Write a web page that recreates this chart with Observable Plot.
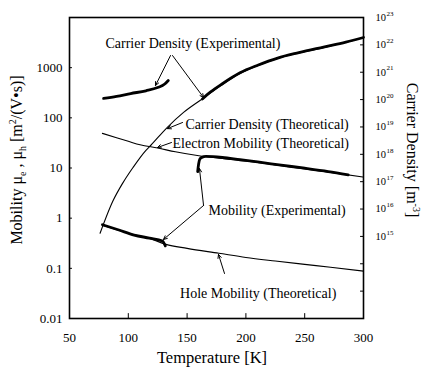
<!DOCTYPE html>
<html><head><meta charset="utf-8">
<script src="https://cdn.jsdelivr.net/npm/d3@7"></script>
<script src="https://cdn.jsdelivr.net/npm/@observablehq/plot@0.6"></script>
<style>body{margin:0;background:#fff}</style>
</head><body><div id="chart"></div>
<script>
// ---- tick values ----
const xTicks = [50, 100, 150, 200, 250, 300];
const mobTicks = [0.01, 0.1, 1, 10, 100, 1000];
const mobTickLabels = ["0.01", "0.1", "1", "10", "100", "1000"];
const densTickExps = [12, 13, 14, 15, 16, 17, 18, 19, 20, 21, 22, 23];
const densLabelExps = [15, 16, 17, 18, 19, 20, 21, 22, 23];

// ---- series ----
// Carrier density (theoretical) [m^-3]
const densTheoT = [76, 87, 95, 104, 115, 119, 133, 147, 161, 195, 227, 266, 297, 300];
const densTheoN = [1.3e15, 2.0e16, 8.5e16, 3.3e17, 1.4e18, 2.1e18, 9.5e18, 3.4e19, 9.3e19, 8.9e20, 3.2e21, 7.9e21, 1.7e22, 1.86e22];
// Carrier density (experimental), low-T and high-T parts
const densExpLowT = [79, 90, 102, 115, 125, 131, 134];
const densExpLowN = [1.1e20, 1.3e20, 1.66e20, 2.1e20, 2.75e20, 3.7e20, 5.0e20];
const densExpHighT = [163, 170, 180, 195, 210, 227, 245, 266, 285, 300];
const densExpHighN = [1.05e20, 1.9e20, 3.8e20, 9.5e20, 1.8e21, 3.3e21, 5.2e21, 8.3e21, 1.26e22, 1.86e22];
// Electron mobility (theoretical) [m^2/(V s)]
const elecT = [78, 90, 100, 110, 125, 140, 160, 180, 200, 225, 250, 275, 300];
const elecMu = [49, 40, 34, 29, 25, 21, 17.5, 15.5, 13.8, 11.5, 9.6, 8.0, 6.6];
// Hole mobility (theoretical)
const holeT = [78, 100, 120, 132, 150, 177, 200, 225, 250, 272, 300];
const holeMu = [0.72, 0.5, 0.38, 0.3, 0.25, 0.2, 0.165, 0.14, 0.12, 0.105, 0.088];
// Mobility (experimental), low-T and high-T parts
const mobExpLowT = [78, 92, 105, 118, 129, 131.5];
const mobExpLowMu = [0.74, 0.58, 0.46, 0.40, 0.35, 0.28];
const mobExpHighT = [159, 159.8, 160.8, 162.5, 166, 172, 180, 195, 210, 230, 250, 270, 287];
const mobExpHighMu = [8.5, 12, 15, 16.3, 17, 16.8, 16.2, 14.6, 13.2, 11.4, 9.9, 8.5, 7.3];

// ---- annotations (in temperature / left-axis units) ----
const noteText = ["Carrier Density (Experimental)", "Carrier Density (Theoretical)", "Electron Mobility (Theoretical)", "Mobility (Experimental)", "Hole Mobility (Theoretical)"];
const noteT = [80.6, 148.6, 137.6, 168.2, 144];
const noteMu = [3020, 73.6, 30.7, 1.42, 0.0316];
const arrowT1 = [135.9, 137.6, 146.1, 136.7, 164, 164, 181.8];
const arrowMu1 = [1746, 1746, 80.7, 32.2, 1.79, 1.79, 0.079];
const arrowT2 = [123.1, 164, 133.3, 124.8, 160.5, 129.9, 176.7];
const arrowMu2 = [441, 254, 61, 25.6, 9.8, 0.376, 0.189];

// right axis (1e12..1e23) shares the pixel range of left axis (1e-2..1e4)
const densToY = n => 10 ** (-2 + (Math.log10(n) - 12) * 6 / 11);
const zip = (ts, vs, f = v => v) => ts.map((t, i) => ({t, v: f(vs[i])}));

const serif = "Liberation Serif, Times New Roman, serif";
const thin = 1.1, thick = 2.8;

const chart = Plot.plot({
  width: 423, height: 368,
  marginTop: 17, marginBottom: 50, marginLeft: 69, marginRight: 60,
  style: {fontFamily: serif, fontSize: "13px", color: "#000", background: "#fff"},
  x: {domain: [50, 300]},
  y: {type: "log", domain: [0.01, 10000]},
  marks: [
    Plot.axisX({ticks: xTicks, tickSize: 0, tickPadding: 14, label: null, fontSize: 13, fontFamily: serif}),
    Plot.axisY({ticks: mobTicks, tickSize: 0, tickPadding: 7, label: null, fontSize: 13, fontFamily: serif,
      tickFormat: d => mobTickLabels[mobTicks.indexOf(d)] ?? ""}),
    Plot.ruleY(mobTicks, {x1: 50, x2: 52.5, strokeWidth: 1}),
    Plot.ruleY(densTickExps.map(e => densToY(10 ** e)), {x1: 297.5, x2: 300, strokeWidth: 1}),
    Plot.ruleX(xTicks, {y1: 0.01, y2: 0.0125, strokeWidth: 1}),
    Plot.text(densLabelExps, {x: 300, y: e => densToY(10 ** e), text: () => "10", dx: 12, textAnchor: "start", fontSize: 10.5, fontFamily: serif}),
    Plot.text(densLabelExps, {x: 300, y: e => densToY(10 ** e), text: e => String(e), dx: 23, dy: -4, textAnchor: "start", fontSize: 7, fontFamily: serif}),
    Plot.frame({strokeWidth: 1.6}),
    Plot.line(zip(densTheoT, densTheoN, densToY), {x: "t", y: "v", strokeWidth: thin, curve: "monotone-x"}),
    Plot.line(zip(densExpLowT, densExpLowN, densToY), {x: "t", y: "v", strokeWidth: thick, curve: "monotone-x"}),
    Plot.line(zip(densExpHighT, densExpHighN, densToY), {x: "t", y: "v", strokeWidth: thick, curve: "monotone-x"}),
    Plot.line(zip(elecT, elecMu), {x: "t", y: "v", strokeWidth: thin, curve: "monotone-x"}),
    Plot.line(zip(holeT, holeMu), {x: "t", y: "v", strokeWidth: thin, curve: "monotone-x"}),
    Plot.line(zip(mobExpLowT, mobExpLowMu), {x: "t", y: "v", strokeWidth: thick, curve: "monotone-x"}),
    Plot.line(zip(mobExpHighT, mobExpHighMu), {x: "t", y: "v", strokeWidth: thick, curve: "monotone-x"}),
    Plot.arrow(arrowT1.map((t, i) => i), {x1: i => arrowT1[i], y1: i => arrowMu1[i], x2: i => arrowT2[i], y2: i => arrowMu2[i],
      strokeWidth: 1, headLength: 6, headAngle: 50}),
    Plot.text(noteText, {x: (d, i) => noteT[i], y: (d, i) => noteMu[i], text: d => d, textAnchor: "start", fontSize: 14, fontFamily: serif})
  ]
});
document.getElementById("chart").appendChild(chart);

// axis titles with sub/superscripts
const svg = d3.select(chart);
const lt = svg.append("text").attr("transform", "translate(22,160) rotate(-90)")
  .attr("text-anchor", "middle").attr("font-family", serif).attr("font-size", 16).attr("fill", "#000");
lt.append("tspan").text("Mobility \u03BC");
lt.append("tspan").text("e").attr("font-size", 10).attr("dy", 4);
lt.append("tspan").text(" , \u03BC").attr("dy", -4);
lt.append("tspan").text("h").attr("font-size", 10).attr("dy", 4);
lt.append("tspan").text(" [m").attr("dy", -4);
lt.append("tspan").text("2").attr("font-size", 10).attr("dy", -6);
lt.append("tspan").text("/(V\u2022s)]").attr("dy", 6);

const rt = svg.append("text").attr("transform", "translate(407,150) rotate(90)")
  .attr("text-anchor", "middle").attr("font-family", serif).attr("font-size", 16).attr("fill", "#000");
rt.append("tspan").text("Carrier Density [m");
rt.append("tspan").text("-3").attr("font-size", 10).attr("dy", -6);
rt.append("tspan").text("]").attr("dy", 6);

svg.append("text").attr("x", 212).attr("y", 363).attr("text-anchor", "middle")
  .attr("font-family", serif).attr("font-size", 16.5).attr("fill", "#000").text("Temperature [K]");
</script></body></html>
